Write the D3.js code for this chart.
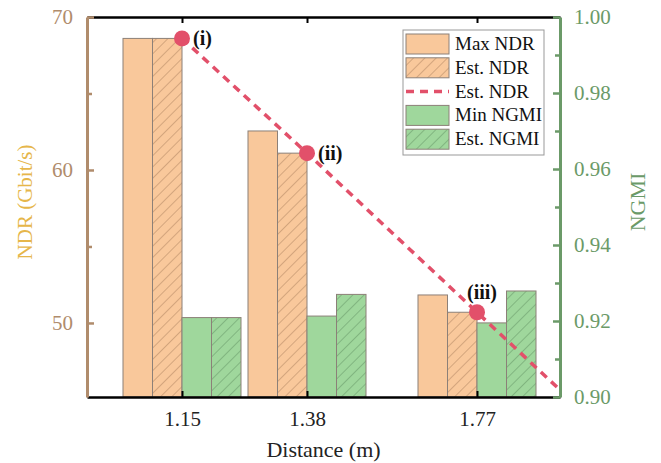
<!DOCTYPE html>
<html>
<head>
<meta charset="utf-8">
<script src="https://d3js.org/d3.v7.min.js"></script>
<style>
  body { margin: 0; background: #fff; }
  svg, svg text { font-family: "Liberation Serif", "Times New Roman", serif; }
</style>
</head>
<body>
<svg width="661" height="463"></svg>
<script>
// data
const distances = ["1.15", "1.38", "1.77"];
const slotPos = [0, 1, 2.36];            // group centres, in slot units (spacing is uneven)
const maxNDR = [68.6, 62.55, 51.83];
const estNDR = [68.6, 61.1, 50.7];
const minNGMI = [0.9209, 0.9213, 0.9195];
const estNGMI = [0.9209, 0.927, 0.9279];
const pointLabels = ["(i)", "(ii)", "(iii)"];
const ndrTicks = [50, 60, 70];
const ndrMinor = [55, 65];
const ngmiTicks = [0.90, 0.92, 0.94, 0.96, 0.98, 1.00];
const ngmiMinor = [0.91, 0.93, 0.95, 0.97, 0.99];

const margin = { left: 87, right: 101, top: 17, bottom: 66 };
const svg = d3.select("svg");
const W = +svg.attr("width"), H = +svg.attr("height");
const iw = W - margin.left - margin.right;
const ih = H - margin.top - margin.bottom;

const orange = "#f9c89b", green = "#9fd79c", lineRed = "#e2506a";
const brown = "#b08c6c", gold = "#e6b64a", axGreen = "#6b9a68";
const serif = '"Liberation Serif", "Times New Roman", serif';

const x = d3.scaleLinear().domain([-0.76, 3.024]).range([0, iw]);
const yL = d3.scaleLinear().domain([45.16, 70]).range([ih, 0]);
const yR = d3.scaleLinear().domain([0.90, 1.00]).range([ih, 0]);
const bw = x(1) - x(0);
const barW = bw * 0.236;

const defs = svg.append("defs");
function hatch(id, bg, fg) {
  const p = defs.append("pattern").attr("id", id).attr("patternUnits", "userSpaceOnUse")
    .attr("width", 8).attr("height", 8).attr("patternTransform", "rotate(45)");
  p.append("rect").attr("width", 8).attr("height", 8).attr("fill", bg);
  p.append("line").attr("x1", 0).attr("y1", 0).attr("x2", 0).attr("y2", 8)
    .attr("stroke", fg).attr("stroke-width", 0.9);
}
hatch("hOr", orange, "#a47a58");
hatch("hGr", green, "#5e8c5c");
defs.append("clipPath").attr("id", "clip").append("rect").attr("width", iw).attr("height", ih);

const g = svg.append("g").attr("transform", `translate(${margin.left},${margin.top})`);

// bars
const series = [
  { vals: maxNDR, y: yL, fill: orange, off: -2 },
  { vals: estNDR, y: yL, fill: "url(#hOr)", off: -1 },
  { vals: minNGMI, y: yR, fill: green, off: 0 },
  { vals: estNGMI, y: yR, fill: "url(#hGr)", off: 1 }
];
series.forEach(s => {
  g.selectAll(null).data(s.vals).enter().append("rect")
    .attr("x", (d, i) => x(slotPos[i]) + s.off * barW)
    .attr("y", d => s.y(d))
    .attr("width", barW)
    .attr("height", d => ih - s.y(d))
    .attr("fill", s.fill)
    .attr("stroke", "#8c8078").attr("stroke-width", 1);
});

// dashed estimate line, extended along its last segment to the right edge
const pts = slotPos.map((p, i) => [p, estNDR[i]]);
const a = pts[1], b = pts[2];
const xEnd = x.domain()[1];
const linePts = pts.concat([[xEnd, b[1] + (b[1] - a[1]) / (b[0] - a[0]) * (xEnd - b[0])]]);
g.append("path").datum(linePts)
  .attr("clip-path", "url(#clip)")
  .attr("fill", "none").attr("stroke", lineRed).attr("stroke-width", 3.5)
  .attr("stroke-dasharray", "8,6").attr("stroke-dashoffset", -14)
  .attr("d", d3.line().x(d => x(d[0])).y(d => yL(d[1])));

g.selectAll(null).data(pts).enter().append("circle")
  .attr("cx", d => x(d[0])).attr("cy", d => yL(d[1])).attr("r", 8)
  .attr("fill", lineRed);

const labOff = [[11, 7], [11, 7], [-10, -13]];
g.selectAll(null).data(pts).enter().append("text")
  .attr("x", (d, i) => x(d[0]) + labOff[i][0])
  .attr("y", (d, i) => yL(d[1]) + labOff[i][1])
  .attr("font-size", 20).attr("font-weight", "bold").attr("fill", "#111")
  .text((d, i) => pointLabels[i]);

// axes
const tickText = sel => sel.attr("font-family", serif).selectAll("text").attr("font-size", 21);

const bottomAx = g.append("g").attr("transform", `translate(0,${ih})`)
  .call(d3.axisBottom(x).tickValues(slotPos).tickFormat((d, i) => distances[i])
    .tickSizeInner(-6).tickSizeOuter(0).tickPadding(14));
bottomAx.select(".domain").attr("stroke", "#000").attr("stroke-width", 2.5);
bottomAx.selectAll(".tick line").attr("stroke", "#000").attr("stroke-width", 2);
bottomAx.selectAll("text").attr("fill", "#222");
tickText(bottomAx);

const topAx = g.append("g")
  .call(d3.axisTop(x).tickValues(slotPos).tickFormat("").tickSizeInner(-6).tickSizeOuter(0));
topAx.select(".domain").attr("stroke", "#000").attr("stroke-width", 2.5);
topAx.selectAll(".tick line").attr("stroke", "#000").attr("stroke-width", 2);

const leftAx = g.append("g")
  .call(d3.axisLeft(yL).tickValues(ndrTicks).tickSizeInner(-7).tickSizeOuter(0).tickPadding(14));
leftAx.selectAll(".tick line").attr("stroke", brown).attr("stroke-width", 2.5);
leftAx.selectAll("text").attr("fill", brown);
tickText(leftAx);
g.append("g").call(d3.axisLeft(yL).tickValues(ndrMinor).tickFormat("").tickSizeInner(-5).tickSizeOuter(0))
  .call(s => s.select(".domain").remove())
  .selectAll("line").attr("stroke", brown).attr("stroke-width", 2.5);
leftAx.select(".domain").attr("stroke", brown).attr("stroke-width", 3);
leftAx.raise();

const rightAx = g.append("g").attr("transform", `translate(${iw},0)`)
  .call(d3.axisRight(yR).tickValues(ngmiTicks).tickFormat(d3.format(".2f"))
    .tickSizeInner(-7).tickSizeOuter(0).tickPadding(14));
rightAx.selectAll(".tick line").attr("stroke", axGreen).attr("stroke-width", 2.5);
rightAx.selectAll("text").attr("fill", axGreen);
tickText(rightAx);
g.append("g").attr("transform", `translate(${iw},0)`)
  .call(d3.axisRight(yR).tickValues(ngmiMinor).tickFormat("").tickSizeInner(-5).tickSizeOuter(0))
  .call(s => s.select(".domain").remove())
  .selectAll("line").attr("stroke", axGreen).attr("stroke-width", 2.5);
rightAx.select(".domain").attr("stroke", axGreen).attr("stroke-width", 3);

// axis titles
g.append("text").attr("x", iw / 2).attr("y", ih + 60).attr("text-anchor", "middle")
  .attr("font-size", 22).attr("fill", "#222").text("Distance (m)");
g.append("text").attr("transform", `translate(${-55},${ih / 2 - 5}) rotate(-90)`)
  .attr("text-anchor", "middle").attr("font-size", 21).attr("fill", gold).text("NDR (Gbit/s)");
g.append("text").attr("transform", `translate(${iw + 85},${ih / 2 - 5}) rotate(-90)`)
  .attr("text-anchor", "middle").attr("font-size", 22).attr("fill", axGreen).text("NGMI");

// legend
const legendItems = [
  { name: "Max NDR", type: "box", fill: orange },
  { name: "Est. NDR", type: "box", fill: "url(#hOr)" },
  { name: "Est. NDR", type: "line" },
  { name: "Min NGMI", type: "box", fill: green },
  { name: "Est. NGMI", type: "box", fill: "url(#hGr)" }
];
const lg = g.append("g").attr("transform", `translate(${403 - margin.left},${30 - margin.top})`);
lg.append("rect").attr("width", 141).attr("height", 125)
  .attr("fill", "#fff").attr("stroke", "#999").attr("stroke-width", 1);
const row = lg.selectAll(null).data(legendItems).enter().append("g")
  .attr("transform", (d, i) => `translate(0,${14 + i * 23.8})`);
row.filter(d => d.type === "box").append("rect")
  .attr("x", 3).attr("y", -10).attr("width", 43).attr("height", 20)
  .attr("fill", d => d.fill).attr("stroke", "#8c8078").attr("stroke-width", 1);
row.filter(d => d.type === "line").append("line")
  .attr("x1", 3).attr("x2", 46).attr("y1", 0).attr("y2", 0)
  .attr("stroke", lineRed).attr("stroke-width", 3.5).attr("stroke-dasharray", "8,6");
row.append("text").attr("x", 52).attr("y", 6).attr("font-size", 19).attr("fill", "#111")
  .text(d => d.name);
</script>
</body>
</html>
